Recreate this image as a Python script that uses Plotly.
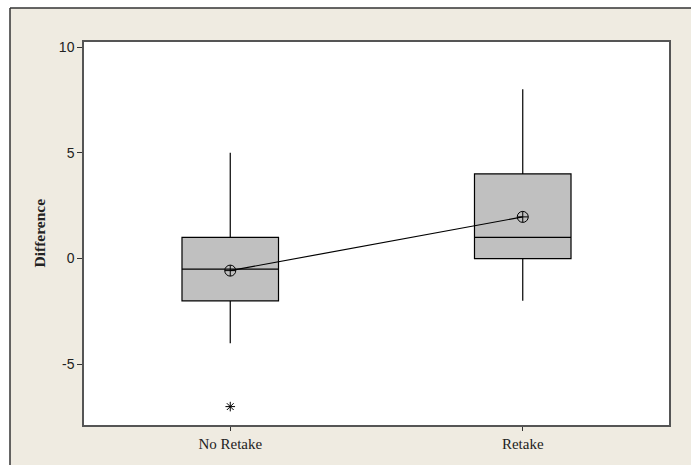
import plotly.graph_objects as go

groups = ["No Retake", "Retake"]
q1 = [-2, 0]
median = [-0.5, 1]
q3 = [1, 4]
lower = [-4, -2]
upper = [5, 8]
means = [-0.57, 1.97]
outlier_group = ["No Retake"]
outlier_vals = [-7]
yticks = [-5, 0, 5, 10]
yticktext = ["-5", "0", "5", "10"]

fig = go.Figure()
fig.add_trace(go.Box(
    x=groups, q1=q1, median=median, q3=q3, lowerfence=lower, upperfence=upper,
    fillcolor="#C0C0C0", line=dict(color="black", width=1.2),
    whiskerwidth=0, width=0.33, boxpoints=False, showlegend=False, hoverinfo="skip"))
fig.add_trace(go.Scatter(
    x=groups, y=means, mode="lines+markers",
    line=dict(color="black", width=1.2),
    marker=dict(symbol="circle-cross-open", size=11, color="black", line=dict(width=1)),
    showlegend=False))
fig.add_trace(go.Scatter(
    x=outlier_group, y=outlier_vals, mode="markers",
    marker=dict(symbol="asterisk-open", size=8, color="black", line=dict(width=1, color="black")),
    showlegend=False))

L, R, T, B = 84, 22, 42, 40
W, H = 691, 465
pw, ph = W - L - R, H - T - B
fx = (10 - L) / pw
fy = (H - B - 8) / ph
BEIGE = "#EFEBE1"

fig.update_layout(
    width=W, height=H,
    margin=dict(l=L, r=R, t=T, b=B),
    paper_bgcolor=BEIGE, plot_bgcolor="white",
    shapes=[
        dict(type="rect", xref="paper", yref="paper", x0=-1, x1=fx, y0=-1, y1=2,
             fillcolor="white", line=dict(width=0), layer="above"),
        dict(type="rect", xref="paper", yref="paper", x0=-1, x1=2, y0=fy, y1=2,
             fillcolor="white", line=dict(width=0), layer="above"),
        dict(type="line", xref="paper", yref="paper", x0=fx, x1=2, y0=fy, y1=fy,
             line=dict(color="#333333", width=1.5), layer="above"),
        dict(type="line", xref="paper", yref="paper", x0=fx, x1=fx, y0=-1, y1=fy,
             line=dict(color="#333333", width=1.5), layer="above"),
    ],
    annotations=[dict(text="<b>Difference</b>", xref="paper", yref="paper",
                      x=(39 - L) / pw, y=0.5, xanchor="center", yanchor="middle",
                      textangle=-90, showarrow=False,
                      font=dict(family="Liberation Serif, Times New Roman, serif", size=15.5, color="#222222"))],
    xaxis=dict(range=[-0.5, 1.5], showline=True, linecolor="#555555", linewidth=1.5,
               mirror=True, ticks="outside", ticklen=4, tickcolor="#333333",
               showgrid=False, zeroline=False,
               tickfont=dict(family="Liberation Serif, Times New Roman, serif", size=15, color="#222222")),
    yaxis=dict(range=[-7.87, 10.24], tickvals=yticks, ticktext=yticktext, showline=True,
               linecolor="#555555", linewidth=1.5, mirror=True, ticks="outside", ticklen=5,
               tickcolor="#333333", showgrid=False, zeroline=False,
               tickfont=dict(family="Liberation Sans, Arial, sans-serif", size=14, color="#222222")),
)
fig.write_html("out.html", config={"displayModeBar": False},
               post_script="document.body.style.margin='0';")
